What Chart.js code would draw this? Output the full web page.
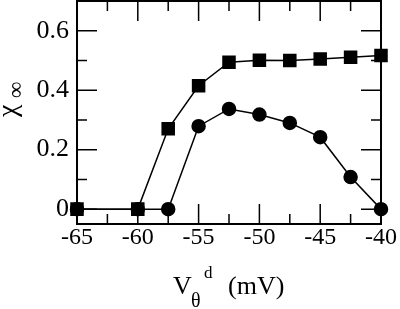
<!DOCTYPE html>
<html>
<head>
<meta charset="utf-8">
<script src="https://cdn.jsdelivr.net/npm/chart.js@4"></script>
<style>
  html, body { margin: 0; padding: 0; background: #fff; }
  #wrap { width: 400px; height: 309px; }
</style>
</head>
<body>
<div id="wrap"><canvas id="chi"></canvas></div>
<script>
// threshold voltage V_theta^d (mV)
const voltages = [-65, -60, -57.5, -55, -52.5, -50, -47.5, -45, -42.5, -40];
// chi_inf, square markers
const squareVals = [0, 0, 0.27, 0.415, 0.494, 0.501, 0.5, 0.505, 0.511, 0.517];
// chi_inf, circle markers
const circleVals = [0, 0, 0, 0.279, 0.337, 0.318, 0.29, 0.242, 0.108, 0];

const xMajor = [-65, -60, -55, -50, -45, -40];
const yMajor = [0, 0.2, 0.4, 0.6];

const FONT = "Liberation Serif";

function pts(vals) {
    return voltages.map((v, i) => ({ x: v, y: vals[i] }));
}

// inward ticks on all four sides + frame, and the axis titles
const framePlugin = {
    id: "frame",
    afterDraw(chart) {
        const ctx = chart.ctx;
        const a = chart.chartArea;
        const xs = chart.scales.x;
        const ys = chart.scales.y;
        ctx.save();
        ctx.strokeStyle = "#000";
        ctx.lineWidth = 2;
        ctx.strokeRect(a.left, a.top, a.right - a.left, a.bottom - a.top);

        ctx.lineWidth = 1.5;
        ctx.beginPath();
        xs.ticks.forEach(t => {
            const px = xs.getPixelForValue(t.value);
            const len = xMajor.includes(t.value) ? 20 : 10;
            ctx.moveTo(px, a.bottom); ctx.lineTo(px, a.bottom - len);
            ctx.moveTo(px, a.top); ctx.lineTo(px, a.top + len);
        });
        ys.ticks.forEach(t => {
            const py = ys.getPixelForValue(t.value);
            const major = yMajor.some(m => Math.abs(m - t.value) < 1e-6);
            const len = major ? 20 : 10;
            ctx.moveTo(a.left, py); ctx.lineTo(a.left + len, py);
            ctx.moveTo(a.right, py); ctx.lineTo(a.right - len, py);
        });
        ctx.stroke();

        // x title: V_theta^d (mV)
        ctx.fillStyle = "#000";
        ctx.textBaseline = "alphabetic";
        ctx.textAlign = "left";
        ctx.font = "26px " + FONT;
        ctx.fillText("V", 173, 294);
        ctx.font = "20px " + FONT;
        ctx.fillText("θ", 191, 307);
        ctx.font = "17px " + FONT;
        ctx.fillText("d", 204, 278);
        ctx.font = "26px " + FONT;
        ctx.fillText("(mV)", 228, 294);

        // y title: chi_inf (rotated)
        ctx.rotate(-Math.PI / 2);
        ctx.font = "28px " + FONT;
        ctx.fillText("χ", -117, 16);
        ctx.font = "23px " + FONT;
        ctx.fillText("∞", -98, 23);
        ctx.restore();
    }
};

new Chart(document.getElementById("chi"), {
    type: "line",
    data: {
        datasets: [
            {
                label: "circles",
                data: pts(circleVals),
                borderColor: "#000",
                backgroundColor: "#000",
                borderWidth: 1.5,
                pointStyle: "circle",
                pointRadius: 6.5,
                pointHoverRadius: 6.5,
                tension: 0,
                clip: false
            },
            {
                label: "squares",
                data: pts(squareVals),
                borderColor: "#000",
                backgroundColor: "#000",
                borderWidth: 1.5,
                pointStyle: "rect",
                pointRadius: 8.5,
                pointHoverRadius: 8.5,
                tension: 0,
                clip: false
            }
        ]
    },
    options: {
        responsive: true,
        maintainAspectRatio: false,
        animation: false,
        events: [],
        layout: { padding: { left: 0, top: 1, right: 19, bottom: 0 } },
        plugins: {
            legend: { display: false },
            tooltip: { enabled: false }
        },
        scales: {
            x: {
                type: "linear",
                min: -65,
                max: -40,
                grid: { display: false, drawTicks: false },
                border: { display: false },
                afterFit(s) { s.height = 85; s.paddingLeft = 0; s.paddingRight = 0; },
                ticks: {
                    stepSize: 2.5,
                    autoSkip: false,
                    maxRotation: 0,
                    padding: -1,
                    color: "#000",
                    font: { family: FONT, size: 24 },
                    callback: v => (xMajor.includes(v) ? String(v) : "")
                }
            },
            y: {
                type: "linear",
                min: -0.05,
                max: 0.7,
                grid: { display: false, drawTicks: false },
                border: { display: false },
                afterFit(s) { s.width = 77; s.paddingTop = 0; s.paddingBottom = 0; },
                afterBuildTicks(s) {
                    s.ticks = [0, 0.1, 0.2, 0.3, 0.4, 0.5, 0.6].map(v => ({ value: v }));
                },
                ticks: {
                    autoSkip: false,
                    padding: 8,
                    color: "#000",
                    font: { family: FONT, size: 26 },
                    callback: v => {
                        const m = yMajor.find(k => Math.abs(k - v) < 1e-6);
                        return m === undefined ? "" : (m === 0 ? "0" : m.toFixed(1));
                    }
                }
            }
        }
    },
    plugins: [framePlugin, {
        id: "noTopPad",
        afterLayout(chart) {
            // pull the plot frame up to the top edge like the original
            const a = chart.chartArea;
            const ys = chart.scales.y;
            const shift = a.top - 1;
            if (shift > 0) {
                a.top -= shift;
                ys.top -= shift;
                ys.height += shift;
                ys.configure();
            }
        }
    }]
});
</script>
</body>
</html>
